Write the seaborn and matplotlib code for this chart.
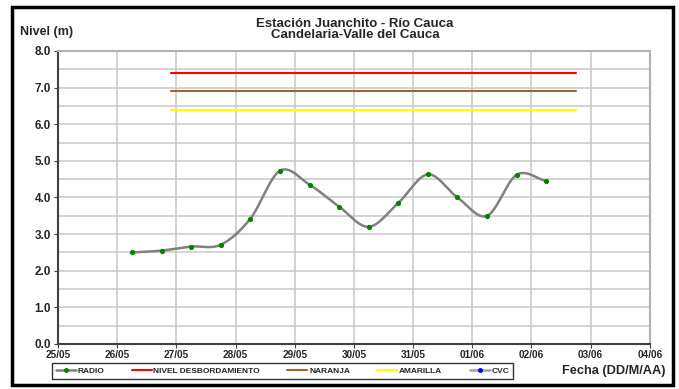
import numpy as np
import pandas as pd
import matplotlib
matplotlib.use("Agg")
import matplotlib.pyplot as plt
import matplotlib.dates as mdates
from matplotlib.lines import Line2D
from matplotlib.patches import Rectangle
import seaborn as sns

# Datos de nivel (estacion de radio)
fechas = ["2011-05-26 06:00", "2011-05-26 18:00", "2011-05-27 06:00", "2011-05-27 18:00",
          "2011-05-28 06:00", "2011-05-28 18:00", "2011-05-29 06:00", "2011-05-29 18:00",
          "2011-05-30 06:00", "2011-05-30 18:00", "2011-05-31 06:00", "2011-05-31 18:00",
          "2011-06-01 06:00", "2011-06-01 18:00", "2011-06-02 06:00"]
nivel_radio = [2.50, 2.55, 2.66, 2.71, 3.42, 4.73, 4.35, 3.75, 3.20, 3.85,
               4.63, 4.00, 3.50, 4.62, 4.45]

# Umbrales
umbral_inicio = "2011-05-26 22:00"
umbral_fin = "2011-06-02 18:00"
nivel_desbordamiento = 7.4
nivel_naranja = 6.9
nivel_amarilla = 6.4

eje_x_min = "2011-05-25"
eje_x_max = "2011-06-04"

sns.set_style("white")
plt.rcParams['font.family'] = ['Liberation Sans', 'DejaVu Sans']
plt.rcParams['font.weight'] = 'bold'


def catmull_rom(x, y, n=30):
    # suavizado tipo Excel para dibujar la curva
    x = np.asarray(x, float)
    y = np.asarray(y, float)
    px = np.concatenate([[2 * x[0] - x[1]], x, [2 * x[-1] - x[-2]]])
    py = np.concatenate([[2 * y[0] - y[1]], y, [2 * y[-1] - y[-2]]])
    xs, ys = [], []
    t = np.linspace(0, 1, n)
    for i in range(1, len(px) - 2):
        for p, out in ((px, xs), (py, ys)):
            p0, p1, p2, p3 = p[i - 1], p[i], p[i + 1], p[i + 2]
            out.append(0.5 * ((2 * p1) + (-p0 + p2) * t
                              + (2 * p0 - 5 * p1 + 4 * p2 - p3) * t ** 2
                              + (-p0 + 3 * p1 - 3 * p2 + p3) * t ** 3))
    return np.concatenate(xs), np.concatenate(ys)


df = pd.DataFrame({"fecha": pd.to_datetime(fechas), "nivel": nivel_radio})
xnum = mdates.date2num(df["fecha"])
sx, sy = catmull_rom(xnum, df["nivel"].values)
suave = pd.DataFrame({"fecha": mdates.num2date(sx), "nivel": sy})

fig = plt.figure(figsize=(6.79, 3.89), dpi=100)
ax = fig.add_axes([0.0854, 0.1157, 0.8716, 0.7533])

# Umbrales
t_umbral = pd.to_datetime([umbral_inicio, umbral_fin])
ax.plot(t_umbral, [nivel_desbordamiento] * 2, color='#ff0000', lw=1.5)
ax.plot(t_umbral, [nivel_naranja] * 2, color='#a0672e', lw=1.5)
ax.plot(t_umbral, [nivel_amarilla] * 2, color='#ffff00', lw=1.5)

# Curva y puntos
sns.lineplot(data=suave, x="fecha", y="nivel", sort=False, color='#808080', lw=1.8, ax=ax)
sns.scatterplot(data=df, x="fecha", y="nivel", color='#008000', s=14, linewidth=0, zorder=5, ax=ax)

ax.set_xlim(pd.to_datetime(eje_x_min), pd.to_datetime(eje_x_max))
ax.set_ylim(0, 8)
ax.xaxis.set_major_locator(mdates.DayLocator())
ax.xaxis.set_major_formatter(mdates.DateFormatter('%d/%m'))
ax.set_yticks(np.arange(0, 8.01, 1.0))
ax.set_yticks(np.arange(0, 8.01, 0.5), minor=True)
ax.yaxis.set_major_formatter(matplotlib.ticker.FormatStrFormatter('%.1f'))
ax.grid(True, which='both', color='#c8c8c8', lw=1.1)
ax.set_axisbelow(True)
ax.tick_params(axis='y', which='major', labelsize=8.5, length=3, color='#404040', pad=2, left=True)
ax.tick_params(axis='y', which='minor', length=0)
ax.tick_params(axis='x', labelsize=7.2, length=3, color='#404040', pad=1, bottom=True)
for lab in ax.get_xticklabels() + ax.get_yticklabels():
    lab.set_fontweight('bold')
ax.set_xlabel("")
ax.set_ylabel("")
for s in ['left', 'bottom']:
    ax.spines[s].set_color('#404040')
    ax.spines[s].set_linewidth(1.5)
for s in ['top', 'right']:
    ax.spines[s].set_color('#b0b0b0')
    ax.spines[s].set_linewidth(1.5)

fig.text(0.523, 0.924, "Estación Juanchito - Río Cauca\nCandelaria-Valle del Cauca",
         ha='center', va='center', fontsize=9.5, fontweight='bold', linespacing=0.95)
fig.text(0.029, 0.918, "Nivel (m)", ha='left', va='center', fontsize=9, fontweight='bold')
fig.text(0.980, 0.046, "Fecha (DD/M/AA)", ha='right', va='center', fontsize=9.2, fontweight='bold')

handles = [
    Line2D([], [], color='#808080', lw=1.8, marker='o', markersize=2.5,
           markerfacecolor='#008000', markeredgecolor='#008000'),
    Line2D([], [], color='#ff0000', lw=1.5),
    Line2D([], [], color='#a0672e', lw=1.5),
    Line2D([], [], color='#ffff00', lw=1.5),
    Line2D([], [], color='#a0a0a0', lw=1.8, marker='o', markersize=2.5,
           markerfacecolor='#0000ff', markeredgecolor='#0000ff'),
]
labels = ["RADIO", "NIVEL DESBORDAMIENTO", "NARANJA", "AMARILLA", "CVC"]
leg = fig.legend(handles, labels, loc='center', bbox_to_anchor=(0.416, 0.0463), ncol=5,
                 frameon=True, fancybox=False, handlelength=2.4,
                 handletextpad=0.2, columnspacing=3.3, borderpad=0.45,
                 prop={'weight': 'bold', 'size': 6})
leg.get_frame().set_edgecolor('black')
leg.get_frame().set_linewidth(1.0)

# Marco exterior
fig.patches.append(Rectangle((0.017, 0.010), 0.974, 0.973, transform=fig.transFigure,
                             fill=False, edgecolor='black', lw=2.5))

fig.savefig("out.png", dpi=100)
